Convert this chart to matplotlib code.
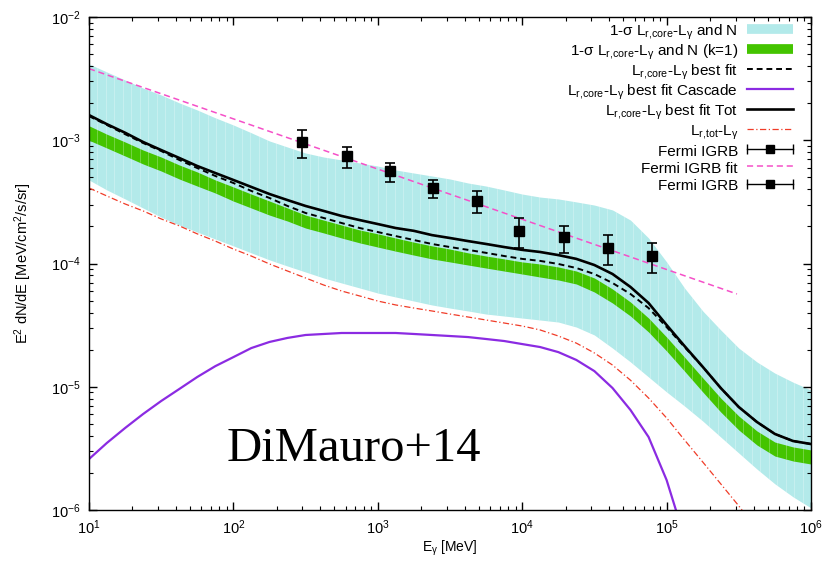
import numpy as np
import matplotlib
matplotlib.use("Agg")
import matplotlib.pyplot as plt
from matplotlib.lines import Line2D
from matplotlib.legend_handler import HandlerLine2D

plt.rcParams["font.family"] = ["Liberation Sans", "DejaVu Sans"]
plt.rcParams["mathtext.fontset"] = "custom"
plt.rcParams["mathtext.rm"] = "Liberation Sans"
plt.rcParams["mathtext.it"] = "Liberation Sans:italic"
plt.rcParams["mathtext.bf"] = "Liberation Sans:bold"
plt.rcParams["axes.unicode_minus"] = False

# model energy grid [MeV]
e_grid = [10, 13.3, 17.8, 23.7, 31.6, 42.2, 56.2, 75, 100, 133, 178, 237,
          316, 422, 562, 750, 1000, 1330, 1780, 2370, 3160, 4220, 5620,
          7500, 1e4, 1.33e4, 1.78e4, 2.37e4, 3.16e4, 4.22e4, 5.62e4, 7.5e4,
          1e5, 1.33e5, 1.78e5, 2.37e5, 3.16e5, 4.22e5, 5.62e5, 7.5e5, 1e6]

# 1-sigma band, L_r,core - L_gamma and N
band_hi = [4.16e-3, 3.58e-3, 3.08e-3, 2.65e-3, 2.33e-3, 2.01e-3, 1.76e-3,
           1.52e-3, 1.33e-3, 1.15e-3, 9.86e-4, 8.81e-4, 7.88e-4, 7.31e-4,
           6.92e-4, 6.54e-4, 6.18e-4, 5.74e-4, 5.42e-4, 5.13e-4, 4.85e-4,
           4.50e-4, 4.25e-4, 3.95e-4, 3.66e-4, 3.46e-4, 3.34e-4, 3.16e-4,
           2.98e-4, 2.72e-4, 2.25e-4, 1.61e-4, 1.03e-4, 6.33e-5, 4.12e-5,
           2.89e-5, 2.06e-5, 1.59e-5, 1.29e-5, 1.09e-5, 9.41e-6]
band_lo = [4.76e-4, 3.95e-4, 3.34e-4, 2.82e-4, 2.38e-4, 2.05e-4, 1.80e-4,
           1.58e-4, 1.39e-4, 1.22e-4, 1.07e-4, 9.54e-5, 8.53e-5, 7.63e-5,
           6.95e-5, 6.33e-5, 5.76e-5, 5.35e-5, 4.96e-5, 4.61e-5, 4.35e-5,
           4.12e-5, 3.89e-5, 3.75e-5, 3.61e-5, 3.48e-5, 3.35e-5, 3.05e-5,
           2.63e-5, 2.06e-5, 1.59e-5, 1.20e-5, 9.07e-6, 6.98e-6, 5.27e-6,
           3.91e-6, 2.90e-6, 2.15e-6, 1.63e-6, 1.28e-6, 1.04e-6]

# 1-sigma band with k=1
k1_hi = [1.31e-3, 1.12e-3, 9.68e-4, 8.33e-4, 7.31e-4, 6.30e-4, 5.53e-4,
         4.76e-4, 4.18e-4, 3.66e-4, 3.21e-4, 2.82e-4, 2.47e-4, 2.25e-4,
         2.05e-4, 1.87e-4, 1.74e-4, 1.61e-4, 1.49e-4, 1.39e-4, 1.31e-4,
         1.22e-4, 1.15e-4, 1.09e-4, 1.03e-4, 9.91e-5, 9.37e-5, 8.69e-5,
         7.63e-5, 6.21e-5, 4.87e-5, 3.61e-5, 2.53e-5, 1.74e-5, 1.18e-5,
         8.10e-6, 5.79e-6, 4.38e-6, 3.56e-6, 3.25e-6, 3.07e-6]
k1_lo = [1.00e-3, 8.65e-4, 7.45e-4, 6.42e-4, 5.63e-4, 4.85e-4, 4.25e-4,
         3.73e-4, 3.21e-4, 2.82e-4, 2.47e-4, 2.21e-4, 1.94e-4, 1.77e-4,
         1.61e-4, 1.47e-4, 1.36e-4, 1.26e-4, 1.17e-4, 1.09e-4, 1.03e-4,
         9.72e-5, 9.19e-5, 8.69e-5, 8.22e-5, 7.77e-5, 7.35e-5, 6.82e-5,
         5.87e-5, 4.78e-5, 3.75e-5, 2.78e-5, 1.95e-5, 1.34e-5, 9.07e-6,
         6.24e-6, 4.46e-6, 3.37e-6, 2.74e-6, 2.50e-6, 2.36e-6]

best_fit = [1.57e-3, 1.33e-3, 1.12e-3, 9.50e-4, 8.18e-4, 6.92e-4, 5.95e-4,
            5.13e-4, 4.50e-4, 3.88e-4, 3.40e-4, 2.93e-4, 2.57e-4, 2.34e-4,
            2.13e-4, 1.94e-4, 1.80e-4, 1.67e-4, 1.55e-4, 1.44e-4, 1.36e-4,
            1.29e-4, 1.22e-4, 1.15e-4, 1.09e-4, 1.05e-4, 9.91e-5, 9.19e-5,
            8.22e-5, 6.95e-5, 5.66e-5, 4.35e-5, 3.05e-5, 2.10e-5, 1.45e-5,
            9.77e-6, 6.85e-6, 5.18e-6, 4.14e-6, 3.63e-6, 3.43e-6]
best_tot = [1.60e-3, 1.35e-3, 1.15e-3, 9.68e-4, 8.33e-4, 7.18e-4, 6.18e-4,
            5.42e-4, 4.76e-4, 4.18e-4, 3.66e-4, 3.27e-4, 2.93e-4, 2.67e-4,
            2.43e-4, 2.25e-4, 2.09e-4, 1.94e-4, 1.84e-4, 1.70e-4, 1.61e-4,
            1.52e-4, 1.44e-4, 1.36e-4, 1.29e-4, 1.24e-4, 1.17e-4, 1.09e-4,
            9.72e-5, 8.22e-5, 6.45e-5, 4.78e-5, 3.17e-5, 2.14e-5, 1.45e-5,
            9.77e-6, 6.85e-6, 5.18e-6, 4.14e-6, 3.63e-6, 3.43e-6]

# L_r,tot - L_gamma
e_tot = e_grid[:37] + [3.33e5]
lr_tot = [4.10e-4, 3.53e-4, 3.04e-4, 2.67e-4, 2.30e-4, 2.02e-4, 1.74e-4,
          1.52e-4, 1.31e-4, 1.15e-4, 9.91e-5, 8.69e-5, 7.63e-5, 6.69e-5,
          5.98e-5, 5.45e-5, 4.96e-5, 4.61e-5, 4.35e-5, 4.12e-5, 3.89e-5,
          3.68e-5, 3.48e-5, 3.29e-5, 3.11e-5, 2.89e-5, 2.58e-5, 2.26e-5,
          1.88e-5, 1.50e-5, 1.13e-5, 8.10e-6, 5.58e-6, 3.70e-6, 2.45e-6,
          1.63e-6, 1.08e-6, 1.0e-6]

# cascade component
e_casc = e_grid[:33] + [1.16e5]
cascade = [2.59e-6, 3.50e-6, 4.63e-6, 6.01e-6, 7.66e-6, 9.59e-6, 1.20e-5,
           1.47e-5, 1.74e-5, 2.06e-5, 2.31e-5, 2.49e-5, 2.63e-5, 2.68e-5,
           2.73e-5, 2.73e-5, 2.73e-5, 2.73e-5, 2.68e-5, 2.63e-5, 2.58e-5,
           2.53e-5, 2.44e-5, 2.35e-5, 2.22e-5, 2.10e-5, 1.91e-5, 1.65e-5,
           1.34e-5, 9.77e-6, 6.48e-6, 3.91e-6, 1.75e-6, 1.0e-6]

# Fermi IGRB data
fermi_e = [300, 610, 1220, 2410, 4900, 9500, 19500, 39000, 79000]
fermi_f = [9.7e-4, 7.45e-4, 5.62e-4, 4.1e-4, 3.21e-4, 1.84e-4, 1.64e-4,
           1.34e-4, 1.15e-4]
fermi_up = [1.20e-3, 8.87e-4, 6.58e-4, 4.76e-4, 3.87e-4, 2.36e-4, 2.01e-4,
            1.70e-4, 1.46e-4]
fermi_dn = [7.18e-4, 5.92e-4, 4.61e-4, 3.38e-4, 2.55e-4, 1.33e-4, 1.22e-4,
            9.73e-5, 8.41e-5]

# power-law fit to the IGRB
fit_e = [10, 3.07e5]
fit_f = [3.81e-3, 5.66e-5]

CYAN = "#b3eaea"
GREEN = "#44c400"
PURPLE = "#8b2be2"
RED = "#f03c28"
PINK = "#f550c8"


def striped_band(ax, x, lo, hi, color, zorder):
    band = ax.fill_between(x, lo, hi, color=color, lw=0, zorder=zorder)
    # thin light seams between the filled slabs
    xs = np.logspace(1, 6, 86)
    seams = ax.vlines(xs, 1e-7, 1e-1, color="white", lw=0.6, alpha=0.3,
                      zorder=zorder)
    seams.set_clip_path(band.get_paths()[0], ax.transData)
    return band


def main() -> None:
    fig = plt.figure(figsize=(8.38, 5.61), dpi=100)
    ax = fig.add_axes([0.1062, 0.0909, 0.8616, 0.8788])

    striped_band(ax, e_grid, band_lo, band_hi, CYAN, 1)
    striped_band(ax, e_grid, k1_lo, k1_hi, GREEN, 2)
    ax.plot(e_tot, lr_tot, color=RED, lw=0.9, ls=(0, (5, 2, 1, 2)), zorder=3)
    ax.plot(e_casc, cascade, color=PURPLE, lw=1.6, zorder=3)
    ax.plot(fit_e, fit_f, color=PINK, lw=1.1, ls=(0, (4, 2.5)), zorder=3)
    ax.plot(e_grid, best_tot, color="black", lw=1.9, zorder=4)
    ax.plot(e_grid, best_fit, color="black", lw=1.4, ls=(0, (3, 2)), zorder=4)

    f = np.array(fermi_f)
    yerr = [f - np.array(fermi_dn), np.array(fermi_up) - f]
    ax.errorbar(fermi_e, fermi_f, yerr=yerr, fmt="s", color="black",
                markersize=6.5, elinewidth=1.2, capsize=3.5, capthick=1.2,
                zorder=5)

    ax.set_xscale("log")
    ax.set_yscale("log")
    ax.set_xlim(10, 1e6)
    ax.set_ylim(1e-6, 1e-2)

    ax.tick_params(which="both", direction="in", top=True, right=True,
                   labelsize=10.5)
    ax.tick_params(which="major", length=6, width=1, pad=6)
    ax.tick_params(which="minor", length=3, width=0.8)
    for sp in ax.spines.values():
        sp.set_linewidth(1.0)
        sp.set_zorder(6)

    ax.set_xlabel(r"E$_\mathrm{γ}$ [MeV]", fontsize=10, labelpad=1)
    ax.set_ylabel(r"E$^2$ dN/dE [MeV/cm$^2$/s/sr]", fontsize=10.5,
                  labelpad=12)

    ax.text(0.190, 0.099, "DiMauro+14", transform=ax.transAxes,
            family="Liberation Serif", fontsize=35, zorder=6)

    # legend: handles on the right, labels right-aligned
    h_band = Line2D([], [], color=CYAN, lw=7, solid_capstyle="butt")
    h_k1 = Line2D([], [], color=GREEN, lw=7, solid_capstyle="butt")
    h_fit = Line2D([], [], color="black", lw=1.4, ls=(0, (3, 2)))
    h_casc = Line2D([], [], color=PURPLE, lw=1.6)
    h_tot = Line2D([], [], color="black", lw=1.9)
    h_lr = Line2D([], [], color=RED, lw=0.9, ls=(0, (5, 2, 1, 2)))
    caps1 = Line2D([], [], color="black", lw=1, marker="|", markersize=7)
    caps2 = Line2D([], [], color="black", lw=1, marker="|", markersize=7)
    sq = Line2D([], [], ls="none", marker="s", color="black", markersize=6)
    h_pink = Line2D([], [], color=PINK, lw=1.1, ls=(0, (4, 2.5)))

    core = r"L$_\mathrm{r{,}core}$-L$_\mathrm{γ}$"
    handles = [h_band, h_k1, h_fit, h_casc, h_tot, h_lr,
               (caps1, sq), h_pink, (caps2, sq)]
    labels = [
        "1-σ " + core + " and N",
        "1-σ " + core + " and N (k=1)",
        core + " best fit",
        core + " best fit Cascade",
        core + " best fit Tot",
        r"L$_\mathrm{r{,}tot}$-L$_\mathrm{γ}$",
        "Fermi IGRB",
        "Fermi IGRB fit",
        "Fermi IGRB",
    ]
    hmap = {caps1: HandlerLine2D(numpoints=2, marker_pad=0),
            caps2: HandlerLine2D(numpoints=2, marker_pad=0)}
    # tall handle boxes give every row the same pitch
    leg = ax.legend(handles, labels, handler_map=hmap, loc="upper right",
                    bbox_to_anchor=(0.975, 0.99), frameon=False, fontsize=11,
                    markerfirst=False, handlelength=3.0, handletextpad=0.6,
                    handleheight=1.35, labelspacing=0.0, borderpad=0,
                    borderaxespad=0)
    leg.set_zorder(7)
    for col in leg._legend_box.get_children()[1].get_children():
        col.align = "right"

    fig.savefig("out.png", dpi=100)


if __name__ == "__main__":
    main()
